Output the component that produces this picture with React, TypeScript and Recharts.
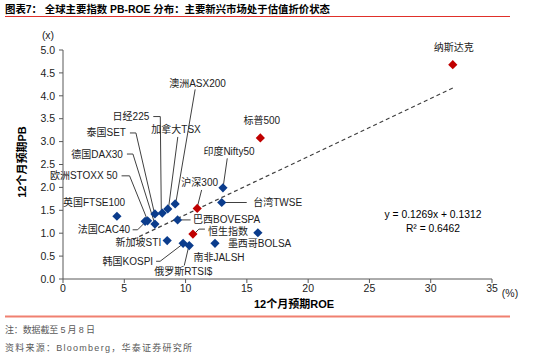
import { ScatterChart, Scatter, XAxis, YAxis, ReferenceLine } from "recharts";

// 12个月预期ROE (%) / 12个月预期PB (x)
const blueNames = [
  "英国FTSE100",
  "欧洲STOXX 50",
  "法国CAC40",
  "德国DAX30",
  "泰国SET",
  "日经225",
  "加拿大TSX",
  "澳洲ASX200",
  "巴西BOVESPA",
  "新加坡STI",
  "韩国KOSPI",
  "俄罗斯RTSI$",
  "南非JALSH",
  "墨西哥BOLSA",
  "印度Nifty50",
  "台湾TWSE",
];
const blueRoe = [4.4, 6.9, 6.7, 7.5, 7.5, 8.1, 8.55, 9.15, 9.35, 8.5, 9.8, 10.3, 12.4, 15.9, 13.05, 12.95];
const bluePb = [1.37, 1.27, 1.26, 1.2, 1.42, 1.44, 1.53, 1.64, 1.29, 0.84, 0.78, 0.73, 0.78, 1.01, 1.99, 1.67];

const redNames = ["沪深300", "恒生指数", "标普500", "纳斯达克"];
const redRoe = [10.95, 10.6, 16.1, 31.8];
const redPb = [1.54, 0.98, 3.08, 4.68];

// trend line y = 0.1269x + 0.1312, ends
const trendRoe = [5.7, 31.8];
const trendPb = [0.86, 4.17];

const xTicks = [0, 5, 10, 15, 20, 25, 30, 35];
const yTicks = [0, 0.5, 1, 1.5, 2, 2.5, 3, 3.5, 4, 4.5, 5];

const blueData = blueNames.map((name, i) => ({ name, roe: blueRoe[i], pb: bluePb[i] }));
const redData = redNames.map((name, i) => ({ name, roe: redRoe[i], pb: redPb[i] }));

const FONT = "'Liberation Sans', Arial, 'Noto Sans CJK SC', sans-serif";

type Lay = { dx: number; dy: number; anchor: "start" | "middle" | "end"; leader?: [number, number][] };

// label placement, pixels relative to the marker
const LABELS: Record<string, Lay> = {
  "英国FTSE100": { dx: -54, dy: -14, anchor: "start" },
  "欧洲STOXX 50": { dx: -30, dy: -45, anchor: "end", leader: [[-26, -45], [-18, -45], [-1, -3]] },
  "法国CAC40": { dx: -15, dy: 8.5, anchor: "end", leader: [[-12.5, 8.5], [-7.5, 8.5], [-1, 2]] },
  "德国DAX30": { dx: -32, dy: -70, anchor: "end", leader: [[-28, -70], [-22, -70], [-1, -3]] },
  "泰国SET": { dx: -29, dy: -81, anchor: "end", leader: [[-25, -81], [-19, -81], [-1, -3]] },
  "日经225": { dx: -13, dy: -96.5, anchor: "end", leader: [[-9, -96.5], [-2, -96.5], [-1, -3]] },
  "加拿大TSX": { dx: -16.5, dy: -79, anchor: "start", leader: [[10, -72], [1, -3]] },
  "澳洲ASX200": { dx: -6, dy: -120.5, anchor: "start", leader: [[20, -114.5], [1, -3]] },
  "巴西BOVESPA": { dx: 15.5, dy: -0.5, anchor: "start", leader: [[4, 0], [13, 0]] },
  "新加坡STI": { dx: -6, dy: 1.5, anchor: "end" },
  "韩国KOSPI": { dx: -30, dy: 18, anchor: "end", leader: [[-27, 18], [-23, 18], [-2, 2]] },
  "俄罗斯RTSI$": { dx: -6, dy: 26, anchor: "middle", leader: [[-5, 20], [-1, 3]] },
  "南非JALSH": { dx: 4, dy: 14, anchor: "middle" },
  "墨西哥BOLSA": { dx: -30, dy: 11, anchor: "start" },
  "印度Nifty50": { dx: 6, dy: -36.5, anchor: "middle", leader: [[4.3, -29.5], [0.5, -3]] },
  "台湾TWSE": { dx: 31.5, dy: 0, anchor: "start", leader: [[3, 0], [25, 0]] },
  "沪深300": { dx: 2.5, dy: -25.5, anchor: "middle", leader: [[4.4, -18.5], [0.5, -3]] },
  "恒生指数": { dx: 15, dy: -3, anchor: "start", leader: [[2, -1], [6, -5], [12, -5]] },
  "标普500": { dx: 1.5, dy: -17, anchor: "middle" },
  "纳斯达克": { dx: 1, dy: -17, anchor: "middle" },
};

function Marker(props: any) {
  const { cx, cy, payload, fill } = props;
  const lay = LABELS[payload.name];
  const r = 4.6;
  return (
    <g>
      {lay && lay.leader && (
        <polyline
          points={lay.leader.map(([x, y]) => `${cx + x},${cy + y}`).join(" ")}
          fill="none"
          stroke="#404040"
          strokeWidth={1}
        />
      )}
      <path d={`M${cx},${cy - r}L${cx + r},${cy}L${cx},${cy + r}L${cx - r},${cy}Z`} fill={fill} />
      {lay && (
        <text
          x={cx + lay.dx}
          y={cy + lay.dy}
          textAnchor={lay.anchor}
          dominantBaseline="central"
          fontSize={10}
          fontFamily={FONT}
          fill="#222"
        >
          {payload.name}
        </text>
      )}
    </g>
  );
}

export default function App() {
  const axisStroke = "#595959";
  const tick = { fill: "#222", fontSize: 10.5, fontFamily: FONT };
  return (
    <div style={{ position: "fixed", left: 0, top: 0, width: 550, height: 356, background: "#fff" }}>
      <ScatterChart width={550} height={356} margin={{ top: 50, right: 58, bottom: 47, left: 0 }}>
        <XAxis
          type="number"
          dataKey="roe"
          domain={[0, 35]}
          ticks={xTicks}
          height={30}
          tick={tick}
          tickSize={4}
          tickMargin={2}
          stroke={axisStroke}
        />
        <YAxis
          type="number"
          dataKey="pb"
          domain={[0, 5]}
          ticks={yTicks}
          width={63}
          tick={tick}
          tickSize={4}
          tickMargin={4}
          stroke={axisStroke}
          tickFormatter={(v: number) => v.toFixed(1)}
        />
        <ReferenceLine
          segment={[
            { x: trendRoe[0], y: trendPb[0] },
            { x: trendRoe[1], y: trendPb[1] },
          ]}
          stroke="#404040"
          strokeWidth={1.2}
          strokeDasharray="4 3"
          ifOverflow="visible"
        />
        <Scatter data={blueData} fill="#0B3C8C" shape={Marker} isAnimationActive={false} />
        <Scatter data={redData} fill="#C00000" shape={Marker} isAnimationActive={false} />
      </ScatterChart>
      <svg
        width={550}
        height={356}
        style={{ position: "absolute", left: 0, top: 0, pointerEvents: "none" }}
        fontFamily={FONT}
      >
        <text
          x={5}
          y={9}
          dominantBaseline="central"
          fontSize={10.5}
          fontWeight="bold"
          fill="#000"
          textLength={325}
          lengthAdjust="spacingAndGlyphs"
        >
          图表7： 全球主要指数 PB-ROE 分布：主要新兴市场处于估值折价状态
        </text>
        <line x1={5} x2={510} y1={16.5} y2={16.5} stroke="#E0302A" strokeWidth={1} />
        <text x={48} y={35} textAnchor="middle" dominantBaseline="central" fontSize={10.5} fill="#222">
          (x)
        </text>
        <text x={510} y={293} textAnchor="middle" dominantBaseline="central" fontSize={10.5} fill="#222">
          (%)
        </text>
        <text
          x={22}
          y={162}
          transform="rotate(-90 22 162)"
          textAnchor="middle"
          dominantBaseline="central"
          fontSize={11}
          fontWeight="bold"
          fill="#000"
        >
          12个月预期PB
        </text>
        <text x={294} y={304} textAnchor="middle" dominantBaseline="central" fontSize={11} fontWeight="bold" fill="#000">
          12个月预期ROE
        </text>
        <text x={433} y={214.5} textAnchor="middle" dominantBaseline="central" fontSize={10.3} fill="#000">
          y = 0.1269x + 0.1312
        </text>
        <text x={433} y={228} textAnchor="middle" dominantBaseline="central" fontSize={10.3} fill="#000">
          R² = 0.6462
        </text>
        <line x1={5} x2={510} y1={316.5} y2={316.5} stroke="#F08070" strokeWidth={2} />
        <text x={5} y={330} dominantBaseline="central" fontSize={9} fill="#595959" textLength={90}>
          注：数据截至 5 月 8 日
        </text>
        <text x={5} y={348} dominantBaseline="central" fontSize={9} fill="#595959" textLength={187}>
          资料来源：Bloomberg，华泰证券研究所
        </text>
      </svg>
    </div>
  );
}
